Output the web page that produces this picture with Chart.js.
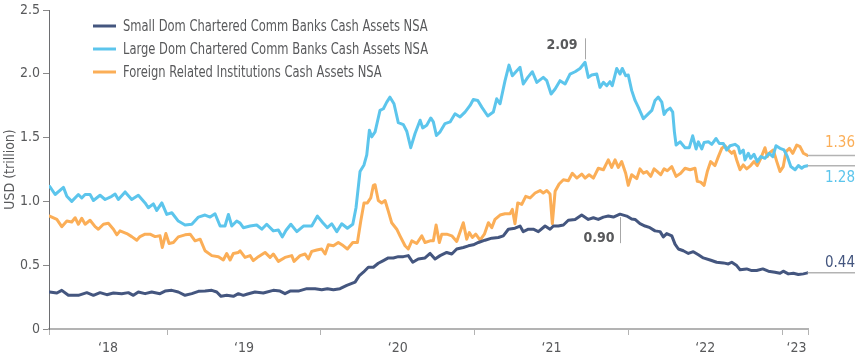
<!DOCTYPE html>
<html>
<head>
<meta charset="utf-8">
<script src="https://cdn.jsdelivr.net/npm/chart.js@4.4.1/dist/chart.umd.min.js"></script>
<style>
  html, body { margin: 0; padding: 0; background: #fff; }
  #wrap { width: 855px; height: 361px; position: relative; }
</style>
</head>
<body>
<div id="wrap"><canvas id="c" width="855" height="361"></canvas></div>
<script>
// weekly H.8 cash assets, USD trillion, x in decimal years
var smallDates = [2018.236,2018.283,2018.315,2018.358,2018.423,2018.478,2018.521,2018.564,2018.608,2018.651,2018.705,2018.748,2018.781,2018.813,2018.857,2018.900,2018.954,2018.987,2019.031,2019.073,2019.117,2019.161,2019.204,2019.247,2019.291,2019.323,2019.351,2019.388,2019.431,2019.464,2019.496,2019.518,2019.572,2019.626,2019.691,2019.735,2019.767,2019.800,2019.854,2019.909,2019.963,2020.006,2020.043,2020.082,2020.125,2020.169,2020.223,2020.251,2020.277,2020.309,2020.342,2020.374,2020.407,2020.439,2020.472,2020.504,2020.537,2020.569,2020.598,2020.634,2020.678,2020.711,2020.743,2020.776,2020.819,2020.852,2020.884,2020.927,2020.960,2020.992,2021.025,2021.068,2021.112,2021.155,2021.187,2021.220,2021.263,2021.296,2021.317,2021.350,2021.382,2021.415,2021.459,2021.491,2021.513,2021.545,2021.578,2021.610,2021.654,2021.697,2021.740,2021.773,2021.805,2021.838,2021.870,2021.903,2021.946,2021.990,2022.022,2022.044,2022.076,2022.109,2022.141,2022.174,2022.207,2022.228,2022.250,2022.283,2022.304,2022.326,2022.358,2022.391,2022.423,2022.456,2022.488,2022.532,2022.575,2022.618,2022.651,2022.673,2022.705,2022.727,2022.770,2022.803,2022.835,2022.875,2022.911,2022.954,2022.987,2023.008,2023.041,2023.074,2023.106,2023.139,2023.166];
var smallVals = [0.290,0.282,0.303,0.264,0.264,0.285,0.264,0.285,0.269,0.282,0.277,0.285,0.264,0.290,0.277,0.290,0.277,0.297,0.303,0.290,0.264,0.277,0.295,0.297,0.303,0.290,0.256,0.264,0.256,0.277,0.264,0.272,0.290,0.282,0.303,0.297,0.277,0.297,0.297,0.316,0.316,0.308,0.316,0.308,0.316,0.342,0.367,0.419,0.445,0.484,0.484,0.515,0.536,0.557,0.557,0.567,0.567,0.575,0.523,0.549,0.557,0.592,0.549,0.575,0.600,0.588,0.627,0.639,0.652,0.660,0.678,0.696,0.712,0.717,0.730,0.782,0.790,0.807,0.763,0.782,0.782,0.763,0.807,0.782,0.807,0.807,0.815,0.852,0.859,0.893,0.859,0.872,0.859,0.877,0.885,0.877,0.900,0.885,0.862,0.859,0.825,0.807,0.794,0.769,0.763,0.722,0.748,0.730,0.665,0.627,0.613,0.592,0.606,0.582,0.557,0.541,0.523,0.518,0.510,0.523,0.497,0.464,0.471,0.458,0.458,0.471,0.453,0.445,0.437,0.453,0.432,0.437,0.427,0.432,0.440];

var largeDates = [2018.236,2018.272,2018.326,2018.348,2018.380,2018.423,2018.445,2018.467,2018.499,2018.521,2018.564,2018.597,2018.640,2018.662,2018.683,2018.727,2018.770,2018.813,2018.857,2018.878,2018.911,2018.933,2018.966,2018.998,2019.031,2019.073,2019.117,2019.161,2019.204,2019.247,2019.280,2019.312,2019.345,2019.377,2019.399,2019.421,2019.453,2019.475,2019.496,2019.540,2019.583,2019.616,2019.648,2019.691,2019.724,2019.750,2019.774,2019.805,2019.844,2019.887,2019.941,2019.978,2020.013,2020.043,2020.071,2020.104,2020.136,2020.173,2020.208,2020.229,2020.255,2020.281,2020.299,2020.316,2020.331,2020.353,2020.385,2020.407,2020.429,2020.450,2020.476,2020.504,2020.537,2020.559,2020.585,2020.613,2020.646,2020.663,2020.689,2020.715,2020.732,2020.752,2020.776,2020.808,2020.841,2020.873,2020.906,2020.938,2020.971,2020.992,2021.021,2021.047,2021.086,2021.122,2021.144,2021.166,2021.198,2021.224,2021.246,2021.275,2021.296,2021.317,2021.346,2021.376,2021.405,2021.447,2021.470,2021.498,2021.524,2021.556,2021.589,2021.621,2021.654,2021.686,2021.719,2021.740,2021.762,2021.795,2021.816,2021.838,2021.860,2021.881,2021.896,2021.925,2021.946,2021.961,2021.983,2022.000,2022.022,2022.044,2022.065,2022.098,2022.120,2022.153,2022.174,2022.195,2022.218,2022.233,2022.250,2022.272,2022.289,2022.300,2022.311,2022.337,2022.369,2022.397,2022.419,2022.441,2022.456,2022.478,2022.493,2022.521,2022.543,2022.571,2022.592,2022.618,2022.640,2022.662,2022.694,2022.716,2022.727,2022.748,2022.759,2022.781,2022.796,2022.818,2022.839,2022.862,2022.889,2022.917,2022.940,2022.961,2022.987,2023.013,2023.035,2023.057,2023.085,2023.106,2023.128,2023.143,2023.166];
var largeVals = [1.118,1.054,1.110,1.040,1.000,1.054,1.027,1.054,1.054,1.007,1.048,1.015,1.040,1.058,1.015,1.074,1.015,1.048,0.988,0.950,0.981,0.929,0.988,0.898,0.911,0.846,0.815,0.821,0.877,0.893,0.877,0.903,0.807,0.807,0.898,0.807,0.846,0.830,0.794,0.807,0.815,0.782,0.821,0.769,0.776,0.722,0.774,0.821,0.763,0.807,0.807,0.885,0.833,0.794,0.825,0.763,0.825,0.790,0.821,0.950,1.234,1.286,1.364,1.558,1.506,1.545,1.713,1.726,1.778,1.817,1.765,1.617,1.602,1.550,1.421,1.532,1.636,1.576,1.597,1.654,1.623,1.517,1.545,1.610,1.623,1.687,1.662,1.700,1.752,1.799,1.791,1.739,1.669,1.700,1.804,1.765,1.945,2.068,1.985,2.024,2.050,1.920,1.972,2.016,1.933,1.972,1.946,1.842,1.881,1.946,1.920,1.998,2.016,2.042,2.090,1.972,1.990,1.998,1.894,1.933,1.907,1.938,1.907,2.042,1.998,2.042,1.985,1.990,1.870,1.791,1.739,1.648,1.674,1.713,1.791,1.817,1.778,1.682,1.713,1.731,1.700,1.545,1.442,1.467,1.421,1.421,1.514,1.411,1.467,1.411,1.462,1.467,1.447,1.493,1.454,1.454,1.403,1.436,1.447,1.429,1.377,1.403,1.325,1.377,1.338,1.369,1.312,1.351,1.338,1.377,1.351,1.436,1.416,1.403,1.351,1.273,1.248,1.281,1.260,1.273,1.280];

var foreignDates = [2018.236,2018.283,2018.315,2018.348,2018.380,2018.402,2018.423,2018.445,2018.467,2018.499,2018.532,2018.553,2018.586,2018.618,2018.651,2018.673,2018.694,2018.738,2018.770,2018.803,2018.824,2018.857,2018.889,2018.922,2018.954,2018.969,2018.992,2019.013,2019.041,2019.073,2019.117,2019.150,2019.182,2019.215,2019.247,2019.291,2019.334,2019.366,2019.388,2019.410,2019.431,2019.464,2019.475,2019.507,2019.540,2019.561,2019.594,2019.637,2019.670,2019.691,2019.724,2019.767,2019.811,2019.826,2019.865,2019.898,2019.919,2019.941,2019.974,2020.006,2020.028,2020.049,2020.082,2020.114,2020.147,2020.173,2020.208,2020.238,2020.260,2020.281,2020.303,2020.325,2020.342,2020.353,2020.374,2020.396,2020.418,2020.439,2020.461,2020.494,2020.515,2020.548,2020.569,2020.592,2020.624,2020.657,2020.678,2020.711,2020.732,2020.750,2020.771,2020.787,2020.819,2020.852,2020.884,2020.927,2020.949,2020.966,2020.986,2021.008,2021.036,2021.064,2021.090,2021.112,2021.133,2021.166,2021.198,2021.231,2021.246,2021.263,2021.281,2021.307,2021.333,2021.361,2021.394,2021.426,2021.447,2021.470,2021.491,2021.506,2021.524,2021.550,2021.578,2021.610,2021.636,2021.665,2021.697,2021.719,2021.745,2021.773,2021.805,2021.838,2021.870,2021.892,2021.914,2021.935,2021.957,2021.983,2022.000,2022.022,2022.055,2022.076,2022.098,2022.120,2022.146,2022.168,2022.189,2022.211,2022.233,2022.254,2022.283,2022.311,2022.341,2022.369,2022.402,2022.434,2022.449,2022.471,2022.493,2022.514,2022.536,2022.564,2022.586,2022.608,2022.629,2022.651,2022.673,2022.688,2022.705,2022.727,2022.748,2022.770,2022.796,2022.818,2022.839,2022.862,2022.889,2022.904,2022.922,2022.943,2022.966,2022.987,2023.008,2023.026,2023.048,2023.070,2023.096,2023.117,2023.139,2023.166];
var foreignVals = [0.885,0.859,0.802,0.846,0.839,0.872,0.821,0.867,0.821,0.852,0.802,0.782,0.821,0.828,0.782,0.738,0.769,0.748,0.724,0.696,0.724,0.743,0.743,0.724,0.730,0.639,0.748,0.670,0.678,0.722,0.738,0.743,0.691,0.704,0.613,0.575,0.567,0.541,0.592,0.541,0.592,0.600,0.613,0.561,0.575,0.536,0.567,0.600,0.561,0.588,0.530,0.561,0.575,0.530,0.575,0.588,0.549,0.608,0.619,0.627,0.588,0.660,0.652,0.678,0.652,0.627,0.678,0.678,0.846,0.988,0.988,1.027,1.126,1.131,1.007,0.988,1.007,0.924,0.833,0.782,0.730,0.652,0.627,0.691,0.670,0.730,0.678,0.691,0.691,0.815,0.678,0.743,0.743,0.730,0.686,0.833,0.704,0.756,0.717,0.743,0.696,0.743,0.833,0.794,0.859,0.893,0.903,0.903,0.937,0.825,0.988,0.976,1.040,1.027,1.066,1.085,1.066,1.085,1.058,0.825,1.079,1.136,1.170,1.162,1.221,1.183,1.214,1.183,1.209,1.183,1.260,1.248,1.325,1.266,1.325,1.266,1.312,1.221,1.126,1.209,1.178,1.255,1.221,1.234,1.196,1.255,1.234,1.209,1.255,1.240,1.273,1.196,1.221,1.260,1.248,1.260,1.157,1.151,1.126,1.234,1.312,1.281,1.351,1.416,1.436,1.403,1.377,1.395,1.325,1.248,1.286,1.255,1.281,1.312,1.281,1.338,1.421,1.351,1.384,1.403,1.312,1.234,1.273,1.390,1.416,1.377,1.442,1.429,1.377,1.360];

var seriesNames = ['Small Dom Chartered Comm Banks Cash Assets NSA',
                   'Large Dom Chartered Comm Banks Cash Assets NSA',
                   'Foreign Related Institutions Cash Assets NSA'];
var yearTicks = [2019, 2020, 2021, 2022, 2023];
var tickLabels = ['‘18', '‘19', '‘20', '‘21', '‘22', '‘23'];
var tickLabelAt = [2018.616, 2019.5, 2020.5, 2021.5, 2022.5, 2023.095];
var xMin = 2018.232, xMax = 2023.169;

var FONT = "'Liberation Sans Narrow', 'DejaVu Sans Condensed', 'Roboto', sans-serif";
var GREY = '#58595b';
var COLS = ['#44567f', '#5cc5ec', '#fbae57'];

function pts(xs, ys) { return xs.map(function (x, i) { return { x: x, y: ys[i] }; }); }

// legend in the top left of the plot; text squeezed to the narrow face of the original
var legendPlugin = {
  id: 'legendBox',
  afterDraw: function (chart) {
    var ctx = chart.ctx;
    ctx.save();
    ctx.font = '16px ' + FONT;
    ctx.textBaseline = 'middle';
    chart.data.datasets.forEach(function (d, i) {
      var y = 26 + i * 23;
      ctx.strokeStyle = d.borderColor; ctx.lineWidth = 3;
      ctx.beginPath(); ctx.moveTo(93, y); ctx.lineTo(116, y); ctx.stroke();
      ctx.fillStyle = GREY;
      ctx.fillText(d.label, 123, y + 1, ctx.measureText(d.label).width * 0.8);
    });
    ctx.restore();
  }
};

// peak callouts and last-value labels
var notesPlugin = {
  id: 'notes',
  afterDatasetsDraw: function (chart) {
    var ctx = chart.ctx, xs = chart.scales.x, ys = chart.scales.y;
    ctx.save();
    ctx.strokeStyle = '#a7a7a7'; ctx.lineWidth = 1;

    var i = largeVals.indexOf(Math.max.apply(null, largeVals));
    var px = Math.round(xs.getPixelForValue(largeDates[i])) + 0.5, py = ys.getPixelForValue(largeVals[i]);
    ctx.beginPath(); ctx.moveTo(px, py - 3); ctx.lineTo(px, py - 24); ctx.stroke();
    ctx.font = 'bold 14px ' + FONT; ctx.fillStyle = GREY;
    ctx.textAlign = 'right'; ctx.textBaseline = 'middle';
    ctx.fillText(largeVals[i].toFixed(2), px - 8, py - 17);

    var j = smallVals.indexOf(Math.max.apply(null, smallVals));
    px = Math.round(xs.getPixelForValue(smallDates[j])) + 0.5; py = ys.getPixelForValue(smallVals[j]);
    ctx.beginPath(); ctx.moveTo(px, py + 3); ctx.lineTo(px, py + 29); ctx.stroke();
    ctx.fillText(smallVals[j].toFixed(2), px - 6, py + 24);

    var ends = [
      [foreignDates, foreignVals, COLS[2], -12],
      [largeDates, largeVals, COLS[1], 12],
      [smallDates, smallVals, COLS[0], -10]
    ];
    ctx.font = '15px ' + FONT; ctx.textAlign = 'center'; ctx.lineWidth = 1.5;
    ends.forEach(function (e) {
      var n = e[1].length - 1;
      var ex = xs.getPixelForValue(e[0][n]), ey = ys.getPixelForValue(e[1][n]);
      ctx.strokeStyle = '#b3b3b3';
      ctx.beginPath(); ctx.moveTo(ex, ey); ctx.lineTo(855, ey); ctx.stroke();
      ctx.fillStyle = e[2];
      ctx.fillText(e[1][n].toFixed(2), 840, ey + e[3]);
    });
    ctx.restore();
  }
};

new Chart(document.getElementById('c'), {
  type: 'line',
  data: {
    datasets: [
      { label: seriesNames[0], data: pts(smallDates, smallVals), borderColor: COLS[0] },
      { label: seriesNames[1], data: pts(largeDates, largeVals), borderColor: COLS[1] },
      { label: seriesNames[2], data: pts(foreignDates, foreignVals), borderColor: COLS[2] }
    ]
  },
  options: {
    responsive: false,
    animation: false,
    parsing: false,
    layout: { padding: { top: 0, right: 47, left: 0, bottom: 0 } },
    elements: {
      line: { borderWidth: 3, tension: 0, borderJoinStyle: 'round', borderCapStyle: 'round' },
      point: { radius: 0 }
    },
    plugins: { legend: { display: false }, tooltip: { enabled: false } },
    scales: {
      x: {
        type: 'linear', min: xMin, max: xMax,
        afterFit: function (s) { s.height = 32; },
        afterBuildTicks: function (s) {
          var v = [xMin].concat(yearTicks, [xMax], tickLabelAt).sort(function (a, b) { return a - b; });
          s.ticks = v.map(function (t) { return { value: t }; });
        },
        ticks: {
          autoSkip: false, maxRotation: 0, padding: 5,
          color: GREY, font: { family: FONT, size: 14 },
          callback: function (v) { var k = tickLabelAt.indexOf(v); return k < 0 ? '' : tickLabels[k]; }
        },
        grid: {
          drawOnChartArea: false, drawTicks: true, tickLength: 6, lineWidth: 1,
          tickColor: function (c) { return c.tick && tickLabelAt.indexOf(c.tick.value) >= 0 ? 'rgba(0,0,0,0)' : '#b3b3b3'; }
        },
        border: { color: '#b3b3b3', width: 2 }
      },
      y: {
        min: 0, max: 2.5,
        afterFit: function (s) { s.width = 49; },
        ticks: {
          stepSize: 0.5, padding: 3, color: GREY, font: { family: FONT, size: 14, lineHeight: 1 },
          callback: function (v) { return v === 0 ? '0' : v.toFixed(1); }
        },
        grid: { drawOnChartArea: false, drawTicks: true, tickLength: 6, tickColor: '#8a8a8a' },
        border: { color: '#6d6e71', width: 1 },
        title: { display: true, text: 'USD (trillion)', color: GREY, font: { family: FONT, size: 14 }, padding: { top: 2, bottom: 0 } }
      }
    }
  },
  plugins: [legendPlugin, notesPlugin]
});
</script>
</body>
</html>
